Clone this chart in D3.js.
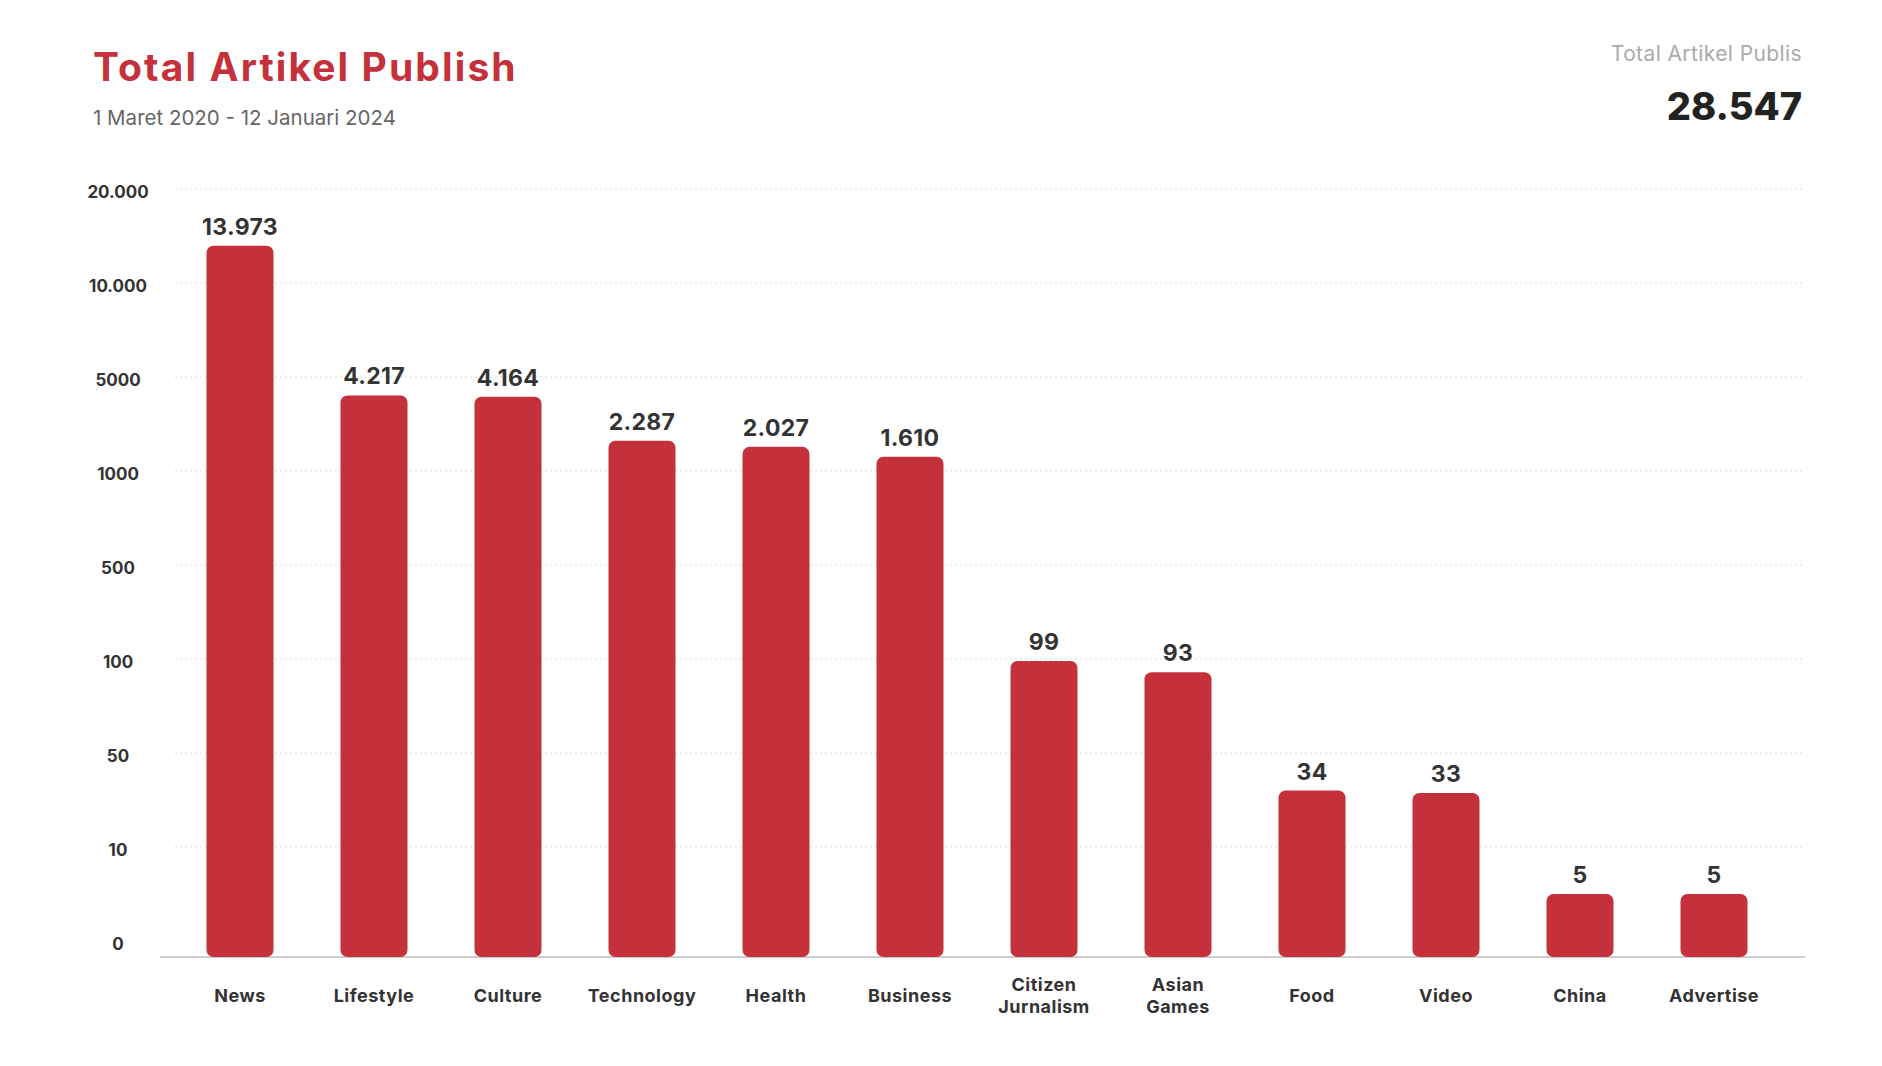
<!DOCTYPE html>
<html><head><meta charset="utf-8">
<script src="https://cdn.jsdelivr.net/npm/d3@7"></script>
<style>
body{margin:0;background:#fff;}
svg{display:block;font-family:Inter,"Open Sans",sans-serif;}
</style>
</head><body>
<svg id="c" width="1882" height="1066"></svg>
<script>
// ---- data ----
const categories = ["News","Lifestyle","Culture","Technology","Health","Business","Citizen\nJurnalism","Asian\nGames","Food","Video","China","Advertise"];
const values = [13973,4217,4164,2287,2027,1610,99,93,34,33,5,5];
const valueLabels = ["13.973","4.217","4.164","2.287","2.027","1.610","99","93","34","33","5","5"];
const tickValues = [0,10,50,100,500,1000,5000,10000,20000];
const tickLabels = ["0","10","50","100","500","1000","5000","10.000","20.000"];
const titleText = "Total Artikel Publish";
const subtitleText = "1 Maret 2020 - 12 Januari 2024";
const totalTitle = "Total Artikel Publis";
const totalValue = "28.547";

// ---- layout ----
const svg = d3.select("#c");
const red = "#C4313B";
const zeroY = 941, tickStep = 94, baseY = 957;
const gridX0 = 175, gridX1 = 1805;

const y = d3.scaleLinear()
  .domain(tickValues)
  .range(tickValues.map((d,i)=> zeroY - i*tickStep));

const x = d3.scaleBand()
  .domain(categories)
  .range([173, 1781])
  .paddingInner(0.5)
  .paddingOuter(0.25);

// header
svg.append("text").attr("x",93).attr("y",81).attr("fill",red)
  .attr("font-size",39).attr("letter-spacing",2.1).attr("font-weight",700).text(titleText);
svg.append("text").attr("x",93).attr("y",125).attr("fill","#666")
  .attr("font-size",20.5).attr("font-weight",400).text(subtitleText);
svg.append("text").attr("x",1802).attr("y",61).attr("text-anchor","end").attr("fill","#aaa")
  .attr("font-size",21).attr("letter-spacing",0.4).attr("font-weight",400).text(totalTitle);
svg.append("text").attr("x",1802).attr("y",120).attr("text-anchor","end").attr("fill","#222")
  .attr("font-size",38).attr("font-weight",800).text(totalValue);

// gridlines
svg.append("g").selectAll("line")
  .data(tickValues.filter(d=>d>0)).join("line")
  .attr("x1",gridX0).attr("x2",gridX1)
  .attr("y1",d=>y(d)).attr("y2",d=>y(d))
  .attr("stroke","#d9d9d9").attr("stroke-width",1).attr("stroke-dasharray","2,3");

// y axis labels
const yAxis = d3.axisLeft(y).tickValues(tickValues)
  .tickFormat((d,i)=>tickLabels[i]).tickSize(0).tickPadding(0);
const gy = svg.append("g").attr("transform","translate(118,3)").call(yAxis);
gy.select(".domain").remove();
gy.selectAll("text").attr("text-anchor","middle").attr("fill","#333")
  .attr("font-size",17).attr("font-weight",700).attr("font-family",'Inter,"Open Sans",sans-serif');

// baseline
svg.append("line").attr("x1",160).attr("x2",1805).attr("y1",baseY).attr("y2",baseY)
  .attr("stroke","#cccccc").attr("stroke-width",2);

// bars
svg.append("g").selectAll("rect")
  .data(values).join("rect")
  .attr("x",(d,i)=>x(categories[i]))
  .attr("y",d=>y(d))
  .attr("width",x.bandwidth())
  .attr("height",d=>baseY - y(d))
  .attr("rx",7).attr("ry",7)
  .attr("fill",red);

// value labels
svg.append("g").selectAll("text")
  .data(values).join("text")
  .attr("x",(d,i)=>x(categories[i])+x.bandwidth()/2)
  .attr("y",d=>y(d)-11)
  .attr("text-anchor","middle").attr("fill","#333")
  .attr("font-size",23).attr("letter-spacing",0.3).attr("font-weight",700)
  .text((d,i)=>valueLabels[i]);

// x labels
const xl = svg.append("g").selectAll("text")
  .data(categories).join("text")
  .attr("text-anchor","middle").attr("fill","#333")
  .attr("font-size",18).attr("letter-spacing",0.5).attr("font-weight",700);
xl.each(function(c){
  const lines = c.split("\n");
  const cx = x(c)+x.bandwidth()/2;
  const t = d3.select(this);
  lines.forEach((ln,k)=>{
    t.append("tspan").attr("x",cx)
      .attr("y",1002 + (k - (lines.length-1)/2)*21.5)
      .text(ln);
  });
});
</script>
</body></html>
